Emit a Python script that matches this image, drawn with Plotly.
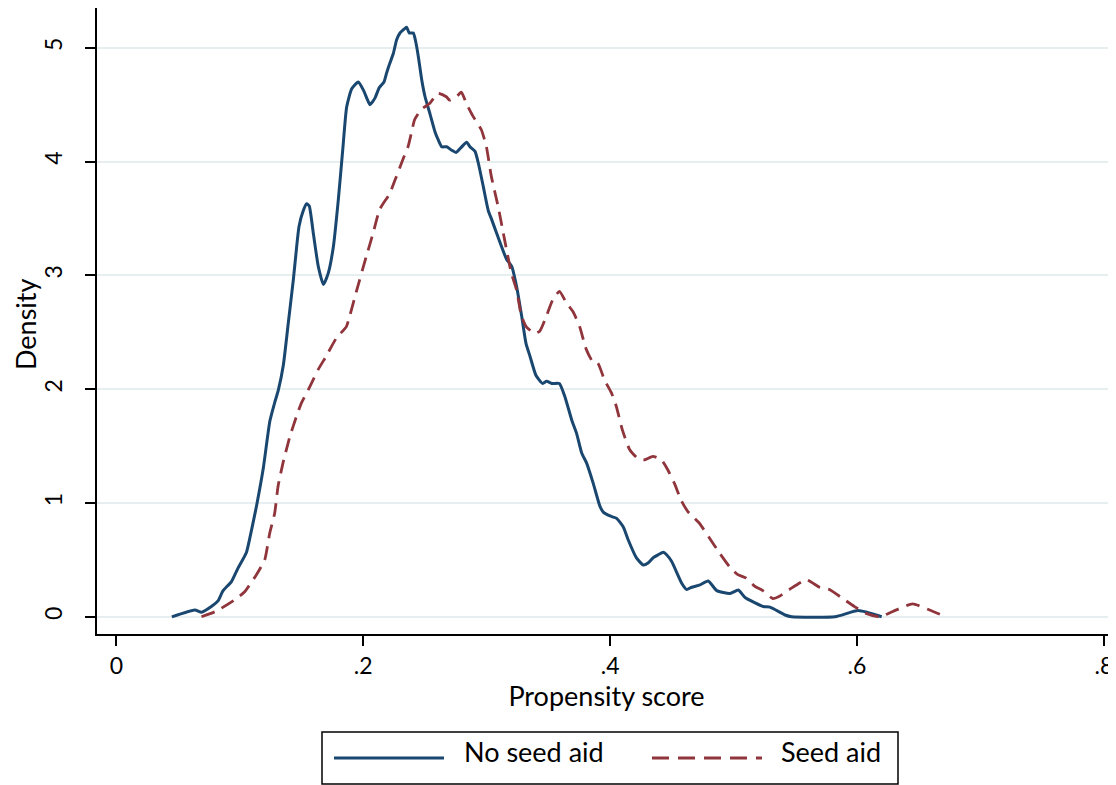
import plotly.graph_objects as go

# ---------------- data ----------------
no_aid_x = [0.045, 0.0636, 0.069, 0.077, 0.0824, 0.0865, 0.0933, 0.0987, 0.1054, 0.1095,
            0.1137, 0.119, 0.1244, 0.1285, 0.1312, 0.1353, 0.1393, 0.1434, 0.146, 0.148,
            0.1515, 0.1542, 0.1563, 0.1596, 0.1636, 0.1677, 0.1717, 0.1758, 0.1798, 0.1834,
            0.1866, 0.1907, 0.196, 0.2001, 0.2028, 0.2055, 0.2096, 0.213, 0.2168, 0.219,
            0.2211, 0.2244, 0.2271, 0.2298, 0.2339, 0.2352, 0.2373, 0.2406, 0.2428, 0.2447,
            0.2474, 0.2501, 0.2541, 0.2582, 0.2608, 0.2636, 0.2676, 0.2717, 0.2752, 0.2798,
            0.2838, 0.2865, 0.2906, 0.2932, 0.2973, 0.3013, 0.3041, 0.3081, 0.3162, 0.3203,
            0.3243, 0.3284, 0.3319, 0.3351, 0.34, 0.3454, 0.3486, 0.3527, 0.3589, 0.3635,
            0.3689, 0.3729, 0.377, 0.381, 0.3864, 0.3918, 0.3945, 0.3999, 0.4053, 0.4107,
            0.4147, 0.4215, 0.4269, 0.431, 0.435, 0.439, 0.4431, 0.4458, 0.4499, 0.458,
            0.462, 0.4661, 0.4728, 0.4795, 0.4864, 0.4971, 0.5039, 0.5093, 0.5241, 0.5295,
            0.5417, 0.5471, 0.5822, 0.601, 0.62]
no_aid_y = [0.0, 0.06, 0.04, 0.09, 0.14, 0.23, 0.31, 0.43, 0.565, 0.76,
            0.98, 1.3, 1.72, 1.89, 1.99, 2.21, 2.58, 2.96, 3.24, 3.43,
            3.57, 3.63, 3.61, 3.37, 3.08, 2.92, 3.02, 3.25, 3.66, 4.10,
            4.48, 4.64, 4.70, 4.63, 4.56, 4.50, 4.56, 4.65, 4.70, 4.78,
            4.85, 4.95, 5.07, 5.13, 5.17, 5.18, 5.13, 5.13, 5.04, 4.92,
            4.72, 4.57, 4.42, 4.26, 4.19, 4.13, 4.13, 4.10, 4.08, 4.13,
            4.17, 4.13, 4.09, 3.99, 3.78, 3.57, 3.49, 3.37, 3.14, 3.08,
            2.90, 2.64, 2.40, 2.29, 2.12, 2.05, 2.07, 2.05, 2.05, 1.93,
            1.73, 1.61, 1.44, 1.35, 1.17, 0.97, 0.92, 0.886, 0.865, 0.79,
            0.675, 0.515, 0.455, 0.475, 0.52, 0.545, 0.567, 0.545, 0.485, 0.295,
            0.24, 0.26, 0.28, 0.315, 0.23, 0.205, 0.235, 0.17, 0.09, 0.085,
            0.016, 0.0, 0.0, 0.055, 0.0]

seed_aid_x = [0.069, 0.0811, 0.0973, 0.104, 0.1135, 0.1202, 0.1243, 0.1283, 0.131, 0.135,
              0.1405, 0.1459, 0.15, 0.1567, 0.1634, 0.17, 0.1783, 0.1864, 0.189, 0.1945,
              0.2026, 0.208, 0.2134, 0.2215, 0.2269, 0.2322, 0.2363, 0.239, 0.2417, 0.2471,
              0.2538, 0.2606, 0.2673, 0.27, 0.2755, 0.2795, 0.2836, 0.2889, 0.2957, 0.2998,
              0.3038, 0.3092, 0.3146, 0.32, 0.3243, 0.328, 0.332, 0.3389, 0.343, 0.3483,
              0.3537, 0.359, 0.3645, 0.37, 0.3753, 0.3807, 0.386, 0.39, 0.3955, 0.401,
              0.405, 0.41, 0.4158, 0.4225, 0.428, 0.4347, 0.4415, 0.4468, 0.4522, 0.4577,
              0.463, 0.467, 0.4725, 0.4806, 0.4887, 0.4968, 0.5035, 0.5103, 0.517, 0.5237,
              0.5318, 0.5372, 0.5453, 0.5589, 0.5696, 0.5777, 0.5885, 0.598, 0.6074, 0.6183,
              0.629, 0.645, 0.6587, 0.672]
seed_aid_y = [0.0, 0.05, 0.16, 0.22, 0.37, 0.50, 0.735, 0.91, 1.145, 1.35,
              1.58, 1.76, 1.88, 2.02, 2.17, 2.29, 2.45, 2.55, 2.64, 2.86,
              3.17, 3.37, 3.58, 3.72, 3.87, 4.02, 4.13, 4.25, 4.37, 4.46,
              4.51, 4.60, 4.57, 4.54, 4.57, 4.61, 4.51, 4.40, 4.28, 4.13,
              3.87, 3.61, 3.31, 3.02, 2.87, 2.65, 2.55, 2.49, 2.51, 2.64,
              2.79, 2.86, 2.76, 2.68, 2.55, 2.35, 2.24, 2.23, 2.08, 1.97,
              1.85, 1.64, 1.47, 1.39, 1.38, 1.41, 1.38, 1.29, 1.17, 1.02,
              0.925, 0.88, 0.82, 0.69, 0.56, 0.44, 0.37, 0.34, 0.27, 0.23,
              0.16, 0.18, 0.24, 0.325, 0.26, 0.24, 0.16, 0.09, 0.03, 0.0,
              0.047, 0.114, 0.06, 0.0]

series_names = ["No seed aid", "Seed aid"]
x_tick_vals = [0, 0.2, 0.4, 0.6, 0.8]
x_tick_text = ["0", ".2", ".4", ".6", ".8"]
y_tick_vals = [0, 1, 2, 3, 4, 5]
y_tick_text = ["0", "1", "2", "3", "4", "5"]
x_title = "Propensity score"
y_title = "Density"

# ---------------- styling ----------------
OFF = 8                      # page body margin added by the browser
W, H = 1116 - OFF, 785 - OFF
ML, MR, MT, MB = 97 - OFF, 0, 8 - OFF, 785 - 634
FONT = "Lato, Open Sans, sans-serif"
NAVY = "#1a476f"
MAROON = "#90353b"
GRID = "#e7eef0"
DASH = "14px,8px"
TICK_SIZE = 23
TITLE_SIZE = 27

def px_x(page_px):
    return (page_px - OFF - ML) / (W - ML - MR)

def px_y(page_py):
    return (H - MB - (page_py - OFF)) / (H - MT - MB)

fig = go.Figure()
fig.add_trace(go.Scatter(x=no_aid_x, y=no_aid_y, mode="lines", name=series_names[0],
                         line=dict(color=NAVY, width=3, shape="spline", smoothing=0.5),
                         showlegend=False))
fig.add_trace(go.Scatter(x=seed_aid_x, y=seed_aid_y, mode="lines", name=series_names[1],
                         line=dict(color=MAROON, width=2.8, dash=DASH, shape="spline", smoothing=0.5),
                         showlegend=False))

fig.update_layout(
    width=W, height=H,
    margin=dict(l=ML, r=MR, t=MT, b=MB, pad=0, autoexpand=False),
    paper_bgcolor="white", plot_bgcolor="white",
    font=dict(family=FONT, color="black", size=TICK_SIZE),
    showlegend=False,
)
fig.update_xaxes(
    range=[-0.01563, 0.8098], tickvals=x_tick_vals, ticktext=x_tick_text,
    automargin=False,
    showgrid=False, zeroline=False, showline=True, linecolor="black", linewidth=1.5,
    ticks="outside", ticklen=10, tickwidth=1.5, tickcolor="black",
    tickfont=dict(size=TICK_SIZE), ticklabelstandoff=1,
    title=dict(text=x_title, font=dict(size=TITLE_SIZE), standoff=3),
)
fig.update_yaxes(
    range=[-0.1511, 5.3497], tickvals=y_tick_vals, ticktext=y_tick_text,
    automargin=False,
    showgrid=True, gridcolor=GRID, gridwidth=2, zeroline=False,
    showline=True, linecolor="black", linewidth=1.5,
    ticks="outside", ticklen=10, tickwidth=1.5, tickcolor="black",
    tickangle=-90, tickfont=dict(size=TICK_SIZE), ticklabelstandoff=14,
)

# custom legend (Stata style) below the plot, plus the rotated y title
shapes = [
    dict(type="rect", xref="paper", yref="paper", x0=px_x(322), x1=px_x(898),
         y0=px_y(784), y1=px_y(732), line=dict(color="black", width=1.5),
         fillcolor="rgba(0,0,0,0)", layer="above"),
    dict(type="line", xref="paper", yref="paper", x0=px_x(334), x1=px_x(444),
         y0=px_y(758), y1=px_y(758), line=dict(color=NAVY, width=2.8)),
    dict(type="line", xref="paper", yref="paper", x0=px_x(652), x1=px_x(762),
         y0=px_y(758), y1=px_y(758), line=dict(color=MAROON, width=2.8, dash="17px,9px")),
]
annotations = [
    dict(text=y_title, xref="paper", yref="paper", x=px_x(25), y=px_y(324),
         xanchor="center", yanchor="middle", textangle=-90, showarrow=False,
         font=dict(size=TITLE_SIZE)),
    dict(text=series_names[0], xref="paper", yref="paper", x=px_x(462), y=px_y(751),
         xanchor="left", yanchor="middle", showarrow=False, font=dict(size=TITLE_SIZE)),
    dict(text=series_names[1], xref="paper", yref="paper", x=px_x(779), y=px_y(751),
         xanchor="left", yanchor="middle", showarrow=False, font=dict(size=TITLE_SIZE)),
]
fig.update_layout(shapes=shapes, annotations=annotations)

fig.write_html("out.html")
